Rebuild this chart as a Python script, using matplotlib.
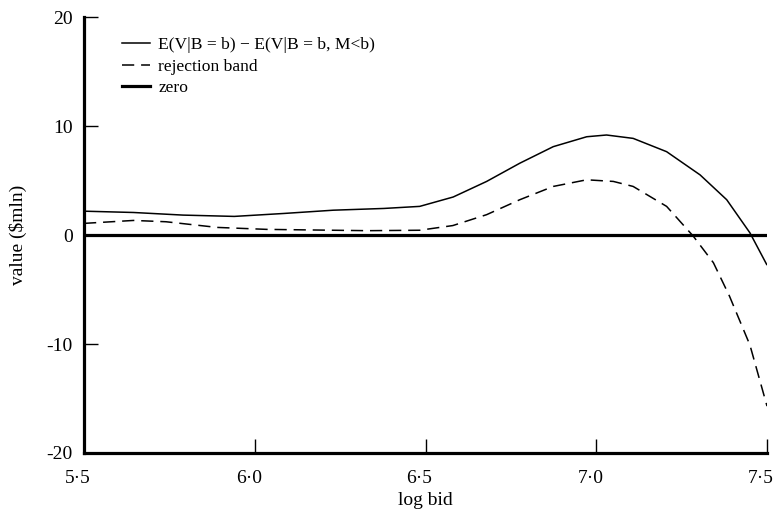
import matplotlib
matplotlib.use("Agg")
import matplotlib.pyplot as plt
import matplotlib.transforms as mtransforms

# data
bid_solid = [5.50, 5.645, 5.79, 5.94, 6.085, 6.23, 6.378, 6.483, 6.581, 6.679,
             6.776, 6.874, 6.972, 7.03, 7.108, 7.206, 7.304, 7.382, 7.45, 7.499]
val_solid = [2.19, 2.07, 1.83, 1.71, 1.98, 2.28, 2.44, 2.63, 3.49, 4.92,
             6.59, 8.11, 9.02, 9.18, 8.87, 7.65, 5.52, 3.24, 0.2, -2.7]

bid_band = [5.50, 5.645, 5.74, 5.89, 6.035, 6.18, 6.33, 6.483, 6.58, 6.679,
            6.776, 6.874, 6.972, 7.05, 7.108, 7.206, 7.284, 7.343, 7.39, 7.45, 7.50]
val_band = [1.07, 1.34, 1.22, 0.70, 0.52, 0.46, 0.40, 0.44, 0.87, 1.87,
            3.24, 4.46, 5.07, 4.92, 4.46, 2.63, -0.1, -2.54, -5.6, -10.1, -15.7]

zero_x = [5.5, 7.5]
zero_y = [0, 0]

xticks = [5.5, 6.0, 6.5, 7.0, 7.5]
xticklabels = ["5·5", "6·0", "6·5", "7·0", "7·5"]
yticks = [-20, -10, 0, 10, 20]
yticklabels = ["-20", "-10", "0", "10", "20"]

plt.rcParams['font.family'] = ['Liberation Serif', 'DejaVu Serif']

fig = plt.figure(figsize=(7.75, 5.18), dpi=100)
ax = fig.add_axes([0.1084, 0.1255, 0.8813, 0.8415])

ax.plot(bid_solid, val_solid, color='black', lw=1.1,
        label="E(V|B = b) − E(V|B = b, M<b)")
ax.plot(bid_band, val_band, color='black', lw=1.1, linestyle=(0, (8, 4.5)),
        label="rejection band")
ax.plot(zero_x, zero_y, color='black', lw=2.3, label="zero")

ax.set_xlim(5.5, 7.5)
ax.set_ylim(-20, 20)
ax.set_xticks(xticks)
ax.set_xticklabels(xticklabels)
ax.set_yticks(yticks)
ax.set_yticklabels(yticklabels)

for s in ['top', 'right']:
    ax.spines[s].set_visible(False)
for s in ['left', 'bottom']:
    ax.spines[s].set_linewidth(2.3)

ax.tick_params(axis='both', direction='in', length=10, width=1, labelsize=14)
ax.tick_params(axis='y', pad=8)
ax.tick_params(axis='x', pad=12)

offset = mtransforms.ScaledTranslation(-6 / 100, 0, fig.dpi_scale_trans)
for lab in ax.get_xticklabels():
    lab.set_transform(lab.get_transform() + offset)

ax.set_xlabel("log bid", fontsize=14, labelpad=4)
ax.set_ylabel("value ($mln)", fontsize=14, labelpad=14)

leg = ax.legend(loc='upper left', bbox_to_anchor=(0.046, 0.97), frameon=False,
                fontsize=12.6, handlelength=1.6, handletextpad=0.45,
                labelspacing=0.3, borderaxespad=0)

fig.savefig("out.png", dpi=100)
